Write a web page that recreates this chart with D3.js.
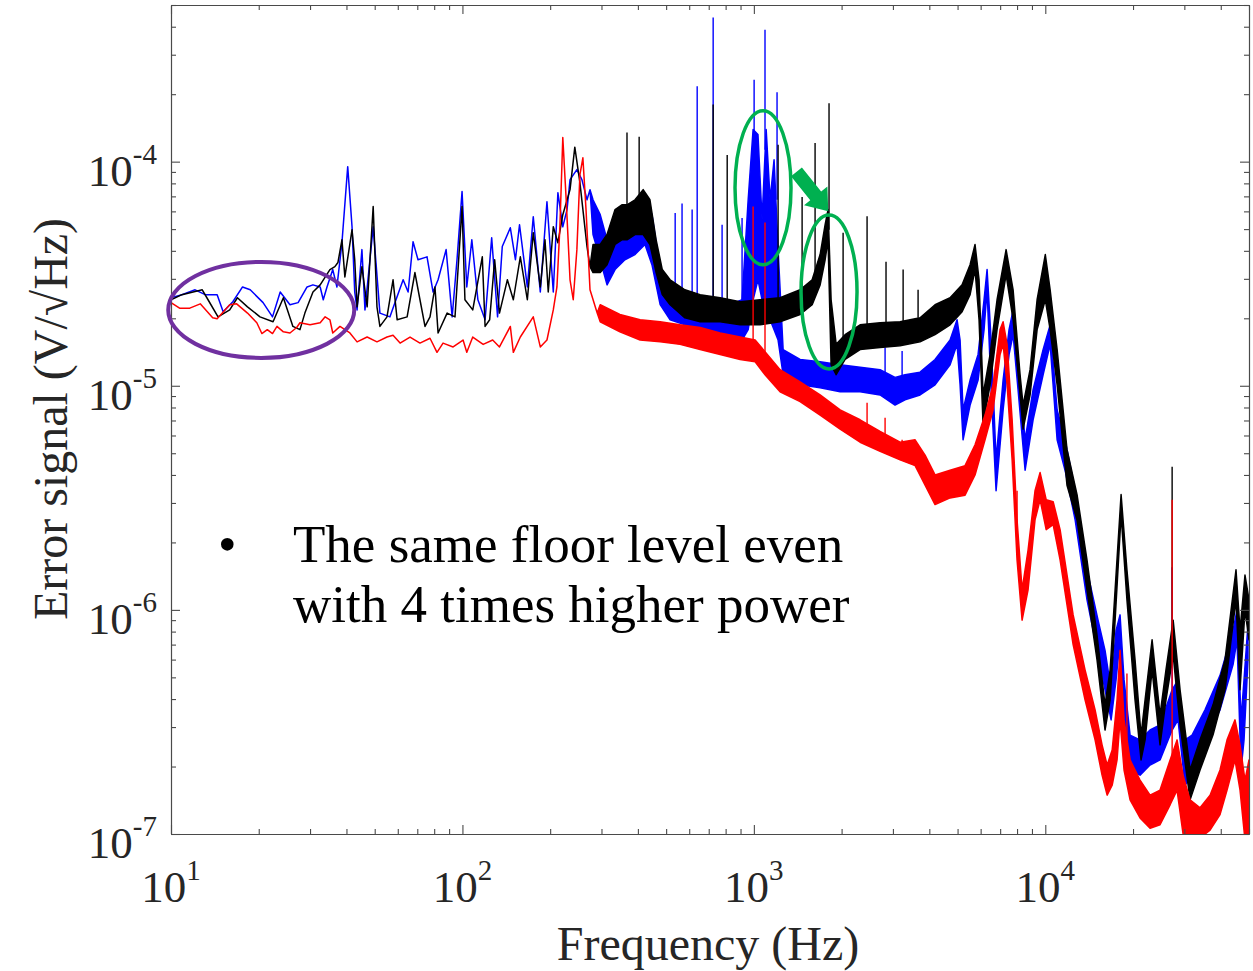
<!DOCTYPE html>
<html>
<head>
<meta charset="utf-8">
<script src="https://cdn.jsdelivr.net/npm/d3@7"></script>
<style>
  body { margin: 0; background: #fff; }
  text { font-family: "Liberation Serif", "Times New Roman", serif; }
</style>
</head>
<body>
<svg width="1253" height="971"></svg>
<script>
// ticks of the log axes
var freqDecades = [10, 100, 1000, 10000]
var freqDecadeLabels = ["1", "2", "3", "4"]
var valueDecades = [1e-7, 1e-6, 1e-5, 1e-4]
var valueDecadeLabels = ["-7", "-6", "-5", "-4"]

// spectra: [Hz, V/sqrt(Hz)] or [Hz, lower, upper] where the trace is a noisy band
var redTrace = [
  [10, 2.35e-5], [10.7, 2.22e-5], [11.6, 2.22e-5], [12.6, 2.32e-5], [13.9, 2.01e-5], [14.4, 1.99e-5],
  [15.9, 2.30e-5], [16.8, 2.32e-5], [18.3, 2.11e-5], [19.7, 1.91e-5], [20.5, 1.71e-5], [21.4, 1.78e-5],
  [22.3, 1.71e-5], [23.1, 1.84e-5], [24.3, 1.74e-5], [25.6, 1.72e-5], [27.0, 1.82e-5], [27.7, 1.91e-5],
  [30.0, 1.87e-5], [32.5, 1.91e-5], [33.8, 2.03e-5], [35.1, 1.97e-5], [35.9, 1.72e-5], [38.0, 1.84e-5],
  [41.1, 1.72e-5], [43.5, 1.57e-5], [47.1, 1.65e-5], [50.9, 1.57e-5], [55.1, 1.65e-5], [57.8, 1.68e-5],
  [61.1, 1.55e-5], [66.1, 1.65e-5], [71.5, 1.55e-5], [77.4, 1.63e-5], [81.8, 1.41e-5], [85.8, 1.55e-5],
  [92.9, 1.49e-5], [100.5, 1.60e-5], [103.5, 1.41e-5], [108.5, 1.65e-5], [117.8, 1.53e-5], [127, 1.60e-5],
  [134, 1.49e-5], [146, 1.84e-5], [149.5, 1.41e-5], [158, 1.65e-5], [175, 2.03e-5], [185, 1.49e-5],
  [195, 1.60e-5], [205, 2.18e-5], [211, 2.76e-5], [216, 5.12e-5], [221, 1.28e-4], [227, 6.76e-5],
  [234, 2.97e-5], [240, 2.42e-5], [247, 4.05e-5], [253, 8.75e-5], [259, 1.04e-4], [265.5, 6.11e-5],
  [274, 2.68e-5], [290, 2.11e-5],
  [297, 1.93e-5, 2.30e-5], [347, 1.74e-5, 2.08e-5], [407, 1.60e-5, 1.97e-5], [477, 1.57e-5, 1.93e-5],
  [558, 1.53e-5, 1.87e-5], [654, 1.45e-5, 1.82e-5], [766, 1.38e-5, 1.72e-5], [897, 1.31e-5, 1.65e-5],
  [1010, 1.28e-5, 1.60e-5], [1092, 1.12e-5, 1.42e-5], [1230, 9.4e-6, 1.18e-5], [1441, 8.5e-6, 1.04e-5],
  [1688, 7.4e-6, 9.1e-6], [1977, 6.4e-6, 7.8e-6], [2315, 5.6e-6, 7.05e-6], [2711, 5.1e-6, 6.25e-6],
  [3175, 4.67e-6, 5.6e-6], [3575, 4.4e-6, 5.74e-6], [3868, 3.6e-6, 4.9e-6], [4185, 2.95e-6, 4.0e-6],
  [4713, 3.16e-6, 4.2e-6], [5305, 3.25e-6, 4.4e-6], [5740, 4.0e-6, 5.45e-6], [6212, 5.74e-6, 7.4e-6],
  [6620, 7.8e-6, 1.01e-5], [6995, 1.38e-5, 1.78e-5], [7165, 1.53e-5, 1.93e-5], [7395, 1.01e-5, 1.53e-5],
  [7695, 4.67e-6, 7.05e-6], [8000, 1.67e-6, 2.52e-6], [8325, 9.0e-7, 1.23e-6], [8727, 1.23e-6, 1.85e-6],
  [9220, 2.52e-6, 3.4e-6], [9598, 3.1e-6, 4.1e-6], [10070, 2.28e-6, 3.1e-6], [10640, 2.4e-6, 3.04e-6],
  [11240, 1.67e-6, 2.28e-6], [12460, 7.0e-7, 9.5e-7], [13690, 3.97e-7, 5.4e-7], [14820, 2.63e-7, 3.58e-7],
  [15660, 1.83e-7, 2.5e-7], [16300, 1.49e-7, 2.03e-7], [16960, 1.65e-7, 2.37e-7], [17630, 2.14e-7, 3.97e-7],
  [18050, 3.23e-7, 6.6e-7], [18630, 1.93e-7, 3.23e-7], [19540, 1.42e-7, 2.14e-7], [21140, 1.18e-7, 1.74e-7],
  [22880, 1.06e-7, 1.49e-7], [24760, 1.1e-7, 1.57e-7], [26810, 1.35e-7, 2.14e-7], [28320, 1.57e-7, 2.63e-7],
  [29700, 1.0e-7, 1.83e-7], [31390, 9.4e-8, 1.42e-7], [33960, 9.6e-8, 1.31e-7], [36760, 1.04e-7, 1.49e-7],
  [39770, 1.22e-7, 1.93e-7], [42040, 1.57e-7, 2.63e-7], [44770, 2.14e-7, 3.23e-7], [46580, 1.57e-7, 2.5e-7],
  [48440, 9.4e-8, 1.74e-7], [50000, 9.4e-8, 2.14e-7]
]

var blueTrace = [
  [10, 2.47e-5], [10.9, 2.55e-5], [12.1, 2.68e-5], [13.1, 2.55e-5], [14.4, 2.55e-5], [15.1, 2.14e-5],
  [16.3, 2.37e-5], [17.6, 2.76e-5], [18.7, 2.68e-5], [20.7, 2.35e-5], [22.3, 2.03e-5], [23.7, 2.62e-5],
  [25.6, 2.30e-5], [27.3, 2.35e-5], [29.3, 2.76e-5], [30.7, 2.82e-5], [32.5, 2.76e-5], [33.3, 2.42e-5],
  [34.3, 2.76e-5], [35.9, 3.30e-5], [37.1, 2.76e-5], [38.6, 4.35e-5], [40.4, 9.5e-5], [41.8, 5.12e-5],
  [42.7, 2.62e-5], [43.5, 2.18e-5], [45.2, 4.05e-5], [46.3, 2.18e-5], [49.4, 5.12e-5], [52.1, 2.11e-5],
  [56.4, 2.03e-5], [58.7, 2.35e-5], [62.6, 2.97e-5], [65.1, 2.62e-5], [67.7, 4.39e-5], [70.4, 3.65e-5],
  [75.6, 3.76e-5], [79.3, 2.62e-5], [82.5, 2.97e-5], [87.9, 4.05e-5], [92.2, 2.03e-5], [95.8, 3.65e-5],
  [99.7, 7.35e-5], [103.5, 2.76e-5], [107.7, 4.48e-5], [113, 2.42e-5], [119.6, 1.97e-5], [126, 4.57e-5],
  [132, 2.03e-5], [137, 4.18e-5], [146, 5.07e-5], [152, 3.65e-5], [157, 5.23e-5], [167, 2.76e-5],
  [175, 5.68e-5], [185, 2.62e-5], [195, 6.62e-5], [205, 2.62e-5], [212.6, 7.27e-5], [221, 5.12e-5],
  [228.5, 6.11e-5], [234, 8.31e-5], [247, 9.21e-5], [257, 8.31e-5], [267.6, 6.76e-5], [274, 7.50e-5],
  [280.6, 4.73e-5, 6.76e-5], [297, 3.65e-5, 5.80e-5], [313.5, 2.82e-5, 4.48e-5], [334, 3.30e-5, 4.73e-5],
  [361, 3.65e-5, 5.23e-5], [391, 3.85e-5, 5.80e-5], [423, 4.27e-5, 7.1e-5], [447, 3.47e-5, 5.80e-5],
  [477, 2.30e-5, 3.30e-5], [516, 1.97e-5, 2.68e-5], [580, 1.87e-5, 2.55e-5], [654, 1.69e-5, 2.42e-5],
  [737, 1.69e-5, 2.42e-5], [829, 1.53e-5, 2.30e-5], [911, 1.60e-5, 2.42e-5], [956, 1.78e-5, 6.76e-5],
  [994, 2.42e-5, 1.39e-4], [1033, 2.97e-5, 1.32e-4], [1067, 2.42e-5, 5.51e-5], [1102, 2.42e-5, 1.39e-4],
  [1137, 1.97e-5, 6.76e-5], [1173, 1.78e-5, 1.02e-4], [1211, 1.60e-5, 4.05e-5], [1260, 1.12e-5, 1.45e-5],
  [1441, 1.01e-5, 1.31e-5], [1688, 9.8e-6, 1.28e-5], [1977, 9.4e-6, 1.24e-5], [2315, 9.4e-6, 1.21e-5],
  [2711, 9.1e-6, 1.18e-5], [3051, 8.2e-6, 1.09e-5], [3302, 8.66e-6, 1.12e-5], [3718, 9.1e-6, 1.15e-5],
  [4185, 1.01e-5, 1.31e-5], [4713, 1.24e-5, 1.60e-5], [4980, 1.53e-5, 1.97e-5], [5100, 1.01e-5, 1.60e-5],
  [5222, 5.74e-6, 7.8e-6], [5520, 8.2e-6, 1.06e-5], [5880, 1.06e-5, 1.38e-5], [6164, 1.78e-5, 2.42e-5],
  [6313, 2.68e-5, 3.30e-5], [6517, 9.6e-6, 1.60e-5], [6778, 3.4e-6, 4.67e-6], [7165, 7.8e-6, 1.06e-5],
  [7510, 1.38e-5, 1.78e-5], [7754, 1.69e-5, 2.18e-5], [8064, 9.6e-6, 1.31e-5], [8526, 4.2e-6, 5.74e-6],
  [9080, 7.05e-6, 9.6e-6], [9828, 1.12e-5, 1.45e-5], [10390, 1.53e-5, 1.87e-5], [10980, 5.74e-6, 7.8e-6],
  [11690, 4.2e-6, 5.74e-6], [12660, 2.52e-6, 3.4e-6], [13900, 1.11e-6, 1.51e-6], [15170, 6.3e-7, 9.0e-7],
  [16030, 4.4e-7, 6.6e-7], [16820, 3.23e-7, 4.4e-7], [17490, 4.87e-7, 8.1e-7], [18050, 7.35e-7, 9.5e-7],
  [18630, 2.63e-7, 4.87e-7], [19540, 1.93e-7, 2.76e-7], [21140, 1.83e-7, 2.63e-7], [22880, 2.03e-7, 2.91e-7],
  [24760, 2.14e-7, 3.07e-7], [27240, 2.91e-7, 4.4e-7], [28540, 3.23e-7, 4.87e-7], [30160, 1.65e-7, 2.63e-7],
  [31890, 1.83e-7, 2.76e-7], [35320, 2.63e-7, 3.58e-7], [39770, 3.58e-7, 5.1e-7], [44080, 5.7e-7, 8.1e-7],
  [45490, 7.35e-7, 1.0e-6], [46950, 1.93e-7, 3.23e-7], [48070, 2.63e-7, 4.87e-7], [49600, 5.98e-7, 8.6e-7]
]

var blackTrace = [
  [10, 2.42e-5], [10.9, 2.55e-5], [12.8, 2.68e-5], [13.4, 2.42e-5], [14.5, 2.03e-5], [15.9, 2.18e-5],
  [16.9, 2.47e-5], [18.3, 2.25e-5], [20.2, 2.03e-5], [22.4, 1.93e-5], [24.3, 2.47e-5], [26.2, 1.84e-5],
  [27.7, 1.78e-5], [28.8, 2.11e-5], [30.7, 2.62e-5], [32.5, 2.82e-5], [35.1, 3.30e-5], [36.5, 3.40e-5],
  [37.4, 3.55e-5], [38.6, 4.48e-5], [39.5, 3.06e-5], [41.8, 4.97e-5], [42.7, 3.65e-5], [43.5, 2.25e-5],
  [45.2, 3.40e-5], [47.1, 2.25e-5], [49.4, 6.3e-5], [50.9, 2.25e-5], [52.1, 1.84e-5], [55.1, 2.03e-5],
  [57.8, 2.97e-5], [59.7, 1.97e-5], [64.6, 2.03e-5], [68.7, 3.20e-5], [71.5, 2.42e-5], [74.4, 1.84e-5],
  [77.4, 2.03e-5], [80.5, 2.76e-5], [82.5, 1.72e-5], [88.6, 2.11e-5], [94.3, 2.03e-5], [99.7, 6.3e-5],
  [102, 2.42e-5], [108.5, 2.18e-5], [117, 3.76e-5], [119.6, 1.84e-5], [124, 1.97e-5], [129, 3.65e-5],
  [134, 2.11e-5], [142.6, 2.97e-5], [149.5, 2.42e-5], [158, 3.76e-5], [167, 2.42e-5], [175, 4.82e-5],
  [185, 2.76e-5], [192, 4.48e-5], [197, 2.62e-5], [205, 5.12e-5], [212.6, 4.35e-5], [221, 5.80e-5],
  [234, 7.50e-5], [243, 1.16e-4], [253, 8.06e-5], [267.6, 4.18e-5], [274, 3.40e-5],
  [280.6, 3.20e-5, 4.27e-5], [297, 3.20e-5, 4.27e-5], [313.5, 3.47e-5, 4.73e-5], [334, 4.27e-5, 6.11e-5],
  [352.5, 4.48e-5, 6.42e-5], [367, 4.48e-5, 6.42e-5], [391, 4.73e-5, 6.76e-5], [417, 4.73e-5, 7.50e-5],
  [440, 4.27e-5, 6.76e-5], [462, 3.20e-5, 4.48e-5], [485, 2.55e-5, 3.30e-5], [516, 2.30e-5, 2.97e-5],
  [580, 2.01e-5, 2.68e-5], [654, 1.93e-5, 2.55e-5], [766, 1.93e-5, 2.47e-5], [897, 1.87e-5, 2.37e-5],
  [1050, 1.87e-5, 2.42e-5], [1230, 1.93e-5, 2.47e-5], [1441, 2.08e-5, 2.68e-5], [1585, 2.30e-5, 2.97e-5],
  [1688, 2.82e-5, 3.85e-5], [1756, 3.65e-5, 5.23e-5], [1797, 4.48e-5, 6.11e-5], [1841, 1.24e-5, 2.42e-5],
  [1916, 1.12e-5, 1.53e-5], [2056, 1.31e-5, 1.69e-5], [2315, 1.45e-5, 1.87e-5], [2711, 1.48e-5, 1.91e-5],
  [3175, 1.51e-5, 1.93e-5], [3718, 1.57e-5, 2.01e-5], [4185, 1.69e-5, 2.30e-5], [4713, 1.87e-5, 2.47e-5],
  [5182, 2.14e-5, 2.82e-5], [5520, 2.55e-5, 3.47e-5], [5740, 3.30e-5, 4.27e-5], [5925, 1.97e-5, 2.97e-5],
  [6116, 6.7e-6, 9.1e-6], [6465, 1.01e-5, 1.38e-5], [6831, 1.78e-5, 2.42e-5], [7337, 3.13e-5, 4.05e-5],
  [7754, 1.97e-5, 2.68e-5], [8193, 9.1e-6, 1.12e-5], [8390, 6.4e-6, 8.2e-6], [8867, 9.1e-6, 1.18e-5],
  [9373, 1.78e-5, 2.42e-5], [10000, 2.42e-5, 3.85e-5], [10390, 1.78e-5, 2.68e-5], [10980, 1.01e-5, 1.45e-5],
  [11870, 3.6e-6, 5.2e-6], [12850, 2.52e-6, 3.27e-6], [13900, 1.23e-6, 1.67e-6], [15050, 5.98e-7, 7.7e-7],
  [16030, 2.91e-7, 3.77e-7], [16690, 3.97e-7, 5.4e-7], [17360, 9.0e-7, 1.23e-6], [18200, 2.66e-6, 3.27e-6],
  [19060, 1.11e-6, 1.51e-6], [20320, 3.97e-7, 5.98e-7], [21310, 2.14e-7, 2.76e-7], [22000, 2.63e-7, 3.97e-7],
  [23250, 5.4e-7, 7.35e-7], [24760, 2.5e-7, 3.4e-7], [25950, 3.97e-7, 5.4e-7], [27460, 6.3e-7, 9.0e-7],
  [29000, 3.07e-7, 4.4e-7], [31390, 1.42e-7, 1.93e-7], [33960, 1.93e-7, 2.63e-7], [37640, 2.77e-7, 3.77e-7],
  [41360, 4.4e-7, 5.98e-7], [45120, 1.11e-6, 1.51e-6], [46580, 4.4e-7, 8.1e-7], [48440, 1.0e-6, 1.43e-6],
  [50000, 7.35e-7, 1.11e-6]
]

// narrow lines: [Hz, foot, top]
var redSpikes = [[994, 1.53e-5, 6.3e-5], [1092, 1.28e-5, 5.35e-5], [2446, 6.1e-6, 8.4e-6], [2820, 5.2e-6, 7.2e-6],
  [3226, 4.67e-6, 5.74e-6], [8000, 2.05e-6, 3.4e-6], [19060, 2.14e-7, 5.2e-7], [27240, 1.57e-7, 3.1e-6]]
var blueSpikes = [[537, 2.30e-5, 5.9e-5], [567, 2.30e-5, 6.5e-5], [614, 1.97e-5, 6.11e-5], [639, 1.97e-5, 2.17e-4],
  [725, 2.08e-5, 4.4e-4], [778, 1.97e-5, 5.23e-5], [911, 1.97e-5, 5.6e-5], [1002, 6.76e-5, 2.32e-4],
  [1092, 1.13e-4, 3.88e-4], [1201, 6.76e-5, 2.04e-4], [2820, 1.12e-5, 1.48e-5], [3226, 1.06e-5, 1.43e-5],
  [27240, 3.23e-7, 1.55e-6]]
var blackSpikes = [[367, 5.80e-5, 1.35e-4], [404, 5.80e-5, 1.29e-4], [725, 2.42e-5, 1.80e-4], [810, 2.42e-5, 1.07e-4],
  [1211, 2.42e-5, 1.19e-4], [1464, 2.68e-5, 6.96e-5], [1622, 2.82e-5, 1.21e-4], [1811, 4.97e-5, 1.82e-4],
  [2024, 1.60e-5, 4.82e-5], [2446, 1.78e-5, 5.7e-5], [2841, 1.82e-5, 3.58e-5], [3252, 1.87e-5, 3.30e-5],
  [3660, 2.01e-5, 2.68e-5], [27240, 7.35e-7, 4.35e-6]]

var svg = d3.select("svg")
svg.append("rect").attr("width", 1253).attr("height", 971).attr("fill", "#fff")

var x = d3.scaleLog().domain([10, 5e4]).range([171, 1249])
var y = d3.scaleLog().domain([1e-7, 5e-4]).range([834, 5])

svg.append("clipPath").attr("id", "plotclip").append("rect")
  .attr("x", 171).attr("y", 5).attr("width", 1078).attr("height", 829)

var plot = svg.append("g").attr("clip-path", "url(#plotclip)")

var band = d3.area()
  .x(d => x(d[0]))
  .y0(d => y(d[1]))
  .y1(d => y(d.length > 2 ? d[2] : d[1]))

function drawSeries(trace, spikes, color) {
  var g = plot.append("g")
  g.append("path").datum(trace).attr("d", band)
    .attr("fill", color).attr("stroke", color)
    .attr("stroke-width", 1.5).attr("stroke-linejoin", "round")
  g.selectAll("line").data(spikes).join("line")
    .attr("x1", d => x(d[0])).attr("x2", d => x(d[0]))
    .attr("y1", d => y(d[1])).attr("y2", d => y(d[2]))
    .attr("stroke", color).attr("stroke-width", 1.4)
}

drawSeries(blueTrace, blueSpikes, "#0000ff")
drawSeries(blackTrace, blackSpikes, "#000000")
drawSeries(redTrace, redSpikes, "#ff0000")

// box with inward ticks on every side
function isDecade(v) { return Math.abs(Math.log10(v) - Math.round(Math.log10(v))) < 1e-6 }
var xMinor = x.ticks().filter(v => !isDecade(v))
var yMinor = y.ticks().filter(v => !isDecade(v))

function frame(gen, tr, values, size) {
  var g = svg.append("g").attr("transform", tr)
    .call(gen.tickValues(values).tickSize(size).tickSizeOuter(0).tickFormat(""))
  g.selectAll("path, line").attr("stroke", "#4a4a4a").attr("stroke-width", 1.1)
}
frame(d3.axisBottom(x), "translate(0,834)", freqDecades, -9)
frame(d3.axisBottom(x), "translate(0,834)", xMinor, -5)
frame(d3.axisTop(x), "translate(0,5)", freqDecades, -9)
frame(d3.axisTop(x), "translate(0,5)", xMinor, -5)
frame(d3.axisLeft(y), "translate(171,0)", valueDecades, -9)
frame(d3.axisLeft(y), "translate(171,0)", yMinor, -5)
frame(d3.axisRight(y), "translate(1249,0)", valueDecades, -9)
frame(d3.axisRight(y), "translate(1249,0)", yMinor, -5)

// power-of-ten tick labels
function powerLabel(sel, exps) {
  sel.each(function(d, i) {
    var t = d3.select(this)
    t.append("tspan").text("10")
    t.append("tspan").attr("dy", -22).attr("font-size", 29).text(exps[i])
  })
}
svg.append("g").selectAll("text").data(freqDecades).join("text")
  .attr("x", d => x(d)).attr("y", 902).attr("text-anchor", "middle")
  .attr("font-size", 45).attr("fill", "#262626")
  .call(powerLabel, freqDecadeLabels)
svg.append("g").selectAll("text").data(valueDecades).join("text")
  .attr("x", 157).attr("y", d => y(d) + 24).attr("text-anchor", "end")
  .attr("font-size", 45).attr("fill", "#262626")
  .call(powerLabel, valueDecadeLabels)

svg.append("text").attr("x", 708).attr("y", 960).attr("text-anchor", "middle")
  .attr("font-size", 48).attr("fill", "#262626").text("Frequency (Hz)")
svg.append("text").attr("transform", "translate(67,419) rotate(-90)").attr("text-anchor", "middle")
  .attr("font-size", 48).attr("fill", "#262626").text("Error signal (V/\u221AHz)")

// annotations
var notes = svg.append("g")
notes.append("ellipse").attr("cx", x(20.4)).attr("cy", y(2.18e-5)).attr("rx", 93).attr("ry", 48)
  .attr("fill", "none").attr("stroke", "#7030a0").attr("stroke-width", 4)
notes.append("ellipse").attr("cx", x(1075)).attr("cy", y(7.65e-5)).attr("rx", 28).attr("ry", 77)
  .attr("fill", "none").attr("stroke", "#00b050").attr("stroke-width", 3.5)
notes.append("ellipse").attr("cx", x(1811)).attr("cy", y(2.62e-5)).attr("rx", 28).attr("ry", 77)
  .attr("fill", "none").attr("stroke", "#00b050").attr("stroke-width", 3.5)

var tail = [x(1400), y(9e-5)], tip = [x(1800), y(6e-5)]
var len = Math.hypot(tip[0] - tail[0], tip[1] - tail[1])
var ang = Math.atan2(tip[1] - tail[1], tip[0] - tail[0]) * 180 / Math.PI
notes.append("polygon")
  .attr("points", [[0, -7], [len - 20, -7], [len - 20, -15], [len, 0], [len - 20, 15], [len - 20, 7], [0, 7]].join(" "))
  .attr("transform", "translate(" + tail + ") rotate(" + ang + ")")
  .attr("fill", "#00b050")

notes.append("text").attr("x", 218).attr("y", 562).attr("font-size", 53).text("\u2022")
notes.append("text").attr("x", 293).attr("y", 562).attr("font-size", 53).text("The same floor level even")
notes.append("text").attr("x", 293).attr("y", 622).attr("font-size", 53).text("with 4 times higher power")
</script>
</body>
</html>
